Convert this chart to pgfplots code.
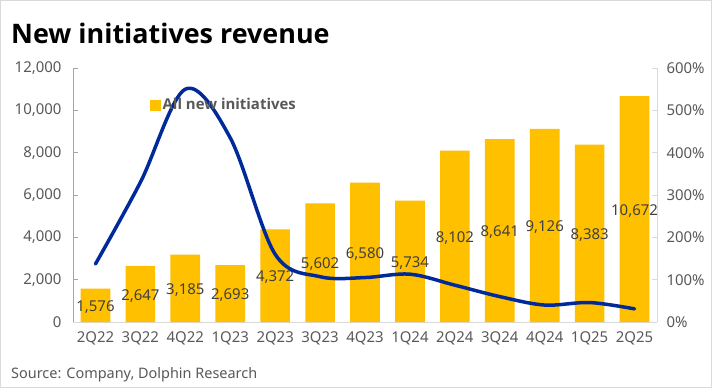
\documentclass[border=0pt]{standalone}
\usepackage{pgfplots}
\pgfplotsset{compat=1.18}
\usepackage{fontspec}
\setmainfont{Noto Sans}
\newfontfamily\osans{Open Sans}
\definecolor{baryel}{HTML}{FFC000}
\definecolor{navy}{HTML}{00299A}
\definecolor{tickgray}{HTML}{595959}
\definecolor{labgray}{HTML}{404040}
\definecolor{axgray}{HTML}{A6A6A6}
\definecolor{axlight}{HTML}{D9D9D9}
\begin{document}
\begin{tikzpicture}[x=1bp,y=1bp]
\draw[axlight, line width=1bp, fill=white] (0.5,0.5) rectangle (711.5,387.5);
\node[anchor=west, font=\osans\bfseries\fontsize{27}{32}\selectfont, inner sep=0] at (11,355) {New initiatives revenue};
\node[anchor=west, font=\fontsize{14.5}{16}\selectfont, text=tickgray, inner sep=0] at (11,13) {Source: Company, Dolphin Research};
\begin{axis}[
  at={(73bp,66bp)}, anchor=south west,
  scale only axis, width=584bp, height=254bp,
  xmin=-0.5, xmax=12.5, ymin=0, ymax=12000,
  xtick=data,
  xticklabels={2Q22,3Q22,4Q22,1Q23,2Q23,3Q23,4Q23,1Q24,2Q24,3Q24,4Q24,1Q25,2Q25},
  ytick={0,2000,4000,6000,8000,10000,12000},
  /pgf/number format/assume math mode=true,
  /pgf/number format/1000 sep={,},
  scaled y ticks=false,
  tick label style={font=\fontsize{15}{16}\selectfont, text=tickgray},
  yticklabel style={xshift=-8bp},
  xticklabel style={yshift=-6bp},
  axis x line*=bottom, axis y line*=left,
  x axis line style={axlight, line width=1bp},
  y axis line style={axgray, line width=0.8bp},
  xtick style={draw=none},
  ytick style={axgray, line width=0.8bp},
  tick align=inside, major tick length=5bp,
]
\addplot[ybar, bar width=0.66, fill=baryel, draw=none] coordinates {
(0,1576) (1,2647) (2,3185) (3,2693) (4,4372) (5,5602) (6,6580) (7,5734) (8,8102) (9,8641) (10,9126) (11,8383) (12,10672)};
\addplot[draw=none, mark=none, forget plot, nodes near coords, point meta=explicit symbolic,
  nodes near coords style={anchor=center, font=\fontsize{15}{16}\selectfont, text=labgray, inner sep=0}]
  table[meta=lab] {
x y lab
0 723 1,576
1 1245 2,647
2 1513 3,185
3 1291 2,693
4 2142 4,372
5 2742 5,602
6 3215 6,580
7 2775 5,734
8 3986 8,102
9 4270 8,641
10 4477 9,126
11 4099 8,383
12 5248 10,672
};
\end{axis}
\begin{axis}[
  at={(73bp,66bp)}, anchor=south west,
  scale only axis, width=584bp, height=254bp,
  xmin=-0.5, xmax=12.5, ymin=0, ymax=600,
  axis x line=none, axis y line*=right,
  ytick={0,100,200,300,400,500,600},
  yticklabel={\pgfmathprintnumber{\tick}\%},
  /pgf/number format/assume math mode=true,
  tick label style={font=\fontsize{15}{16}\selectfont, text=tickgray},
  yticklabel style={xshift=6bp},
  y axis line style={axlight, line width=1bp},
  ytick style={axlight, line width=1bp},
  tick align=inside, major tick length=5bp,
  legend style={at={(0.132,0.855)}, anchor=west, draw=none, fill=none,
    font=\osans\bfseries\fontsize{15}{16}\selectfont, text=tickgray,
    legend cell align=left, inner sep=0pt},
]
\addplot[navy, line width=3.5bp, smooth, tension=0.55, line cap=round, forget plot] coordinates {
(0,137) (1,330) (2,550) (3,435) (4,160) (5,107) (6,105) (7,113) (8,87) (9,60) (10,40) (11,46) (12,31)};
\addlegendimage{legend image code/.code={\fill[baryel] (0bp,-5bp) rectangle (10bp,5bp);}}
\addlegendentry{All new initiatives}
\end{axis}
\end{tikzpicture}
\end{document}
